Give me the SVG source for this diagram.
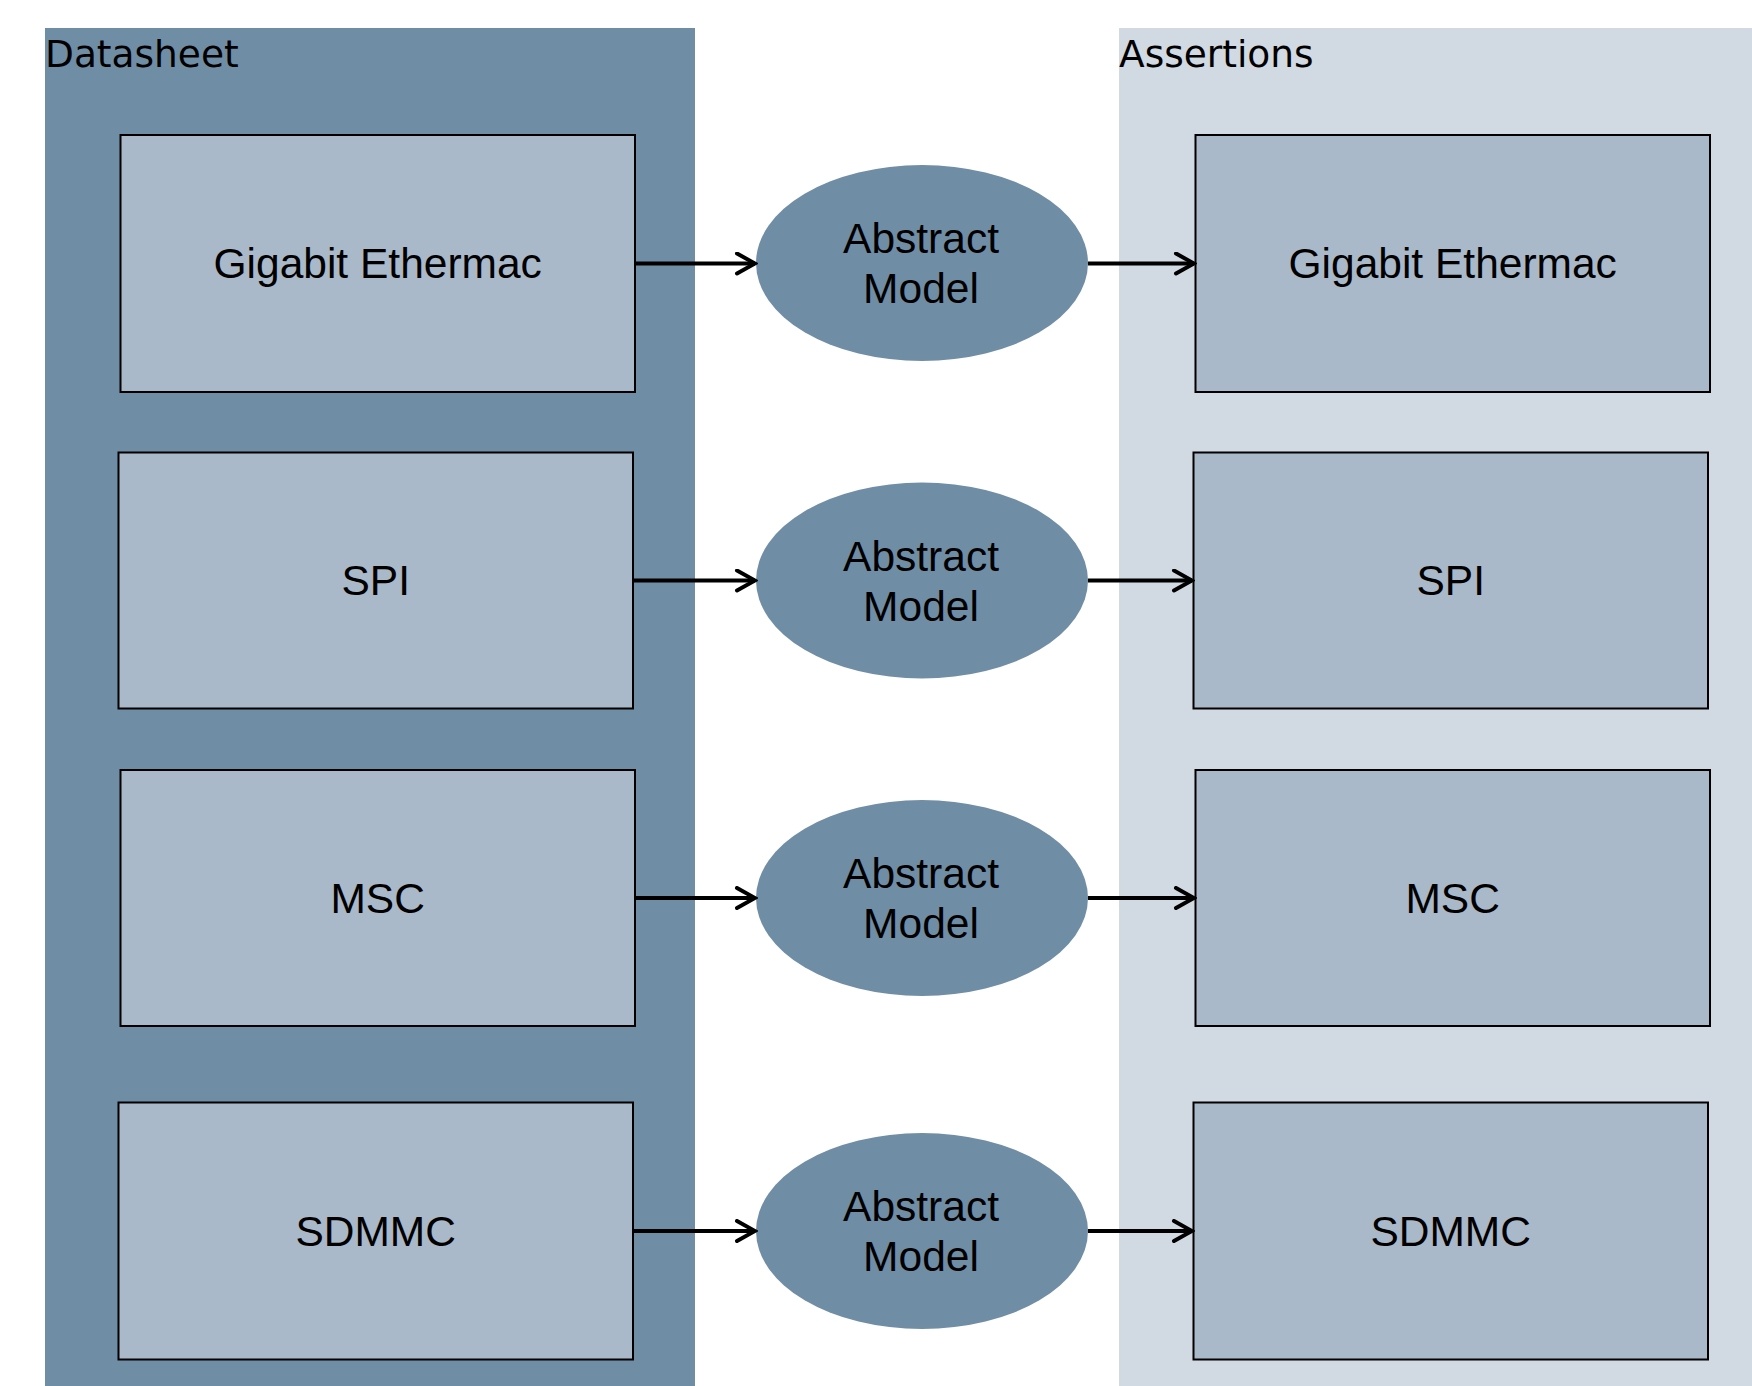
<svg xmlns="http://www.w3.org/2000/svg" width="1752" height="1386" viewBox="0 0 1752 1386">
<style>
.panel-dark{fill:#708DA6}
.panel-light{fill:#D1D9E2}
.box{fill:#A9B9C9;stroke:#000;stroke-width:2}
.ell{fill:#708DA6}
.lbl{font-family:"Liberation Sans",Arial,Helvetica,sans-serif;font-size:42.5px;fill:#000;text-anchor:middle}
.plbl{font-family:"DejaVu Sans",Verdana,sans-serif;font-size:37.5px;fill:#000}
.conn{stroke:#000;stroke-width:4;fill:none}
</style>
<defs>
<marker id="arr" viewBox="0 0 24 24" markerWidth="24" markerHeight="24" refX="21" refY="12" orient="auto" markerUnits="userSpaceOnUse">
<path d="M3,2 L21,12 L3,22" fill="none" stroke="#000" stroke-width="4" stroke-linecap="round" stroke-linejoin="miter"/>
</marker>
</defs>
<rect width="1752" height="1386" fill="#FFFFFF"/>
<g id="panel-datasheet">
<rect class="panel-dark" x="45" y="28" width="650" height="1358"/>
<text class="plbl" x="45" y="67">Datasheet</text>
</g>
<g id="panel-assertions">
<rect class="panel-light" x="1119" y="28" width="633" height="1358"/>
<text class="plbl" x="1119" y="67">Assertions</text>
</g>
<g id="ds-gigabit"><rect class="box" x="120.5" y="135" width="514.5" height="257"/><text class="lbl" x="377.7" y="278">Gigabit Ethermac</text></g>
<g id="ds-spi"><rect class="box" x="118.5" y="452.5" width="514.5" height="256"/><text class="lbl" x="375.7" y="595">SPI</text></g>
<g id="ds-msc"><rect class="box" x="120.5" y="770" width="514.5" height="256"/><text class="lbl" x="377.7" y="912.5">MSC</text></g>
<g id="ds-sdmmc"><rect class="box" x="118.5" y="1102.5" width="514.5" height="257"/><text class="lbl" x="375.7" y="1245.5">SDMMC</text></g>
<g id="am-1"><ellipse class="ell" cx="922" cy="263" rx="166" ry="98"/><text class="lbl" x="921" y="253">Abstract</text><text class="lbl" x="921" y="303">Model</text></g>
<g id="am-2"><ellipse class="ell" cx="922" cy="580.5" rx="166" ry="98"/><text class="lbl" x="921" y="570.5">Abstract</text><text class="lbl" x="921" y="620.5">Model</text></g>
<g id="am-3"><ellipse class="ell" cx="922" cy="898" rx="166" ry="98"/><text class="lbl" x="921" y="888">Abstract</text><text class="lbl" x="921" y="938">Model</text></g>
<g id="am-4"><ellipse class="ell" cx="922" cy="1231" rx="166" ry="98"/><text class="lbl" x="921" y="1221">Abstract</text><text class="lbl" x="921" y="1271">Model</text></g>
<g id="as-gigabit"><rect class="box" x="1195.5" y="135" width="514.5" height="257"/><text class="lbl" x="1452.7" y="278">Gigabit Ethermac</text></g>
<g id="as-spi"><rect class="box" x="1193.5" y="452.5" width="514.5" height="256"/><text class="lbl" x="1450.7" y="595">SPI</text></g>
<g id="as-msc"><rect class="box" x="1195.5" y="770" width="514.5" height="256"/><text class="lbl" x="1452.7" y="912.5">MSC</text></g>
<g id="as-sdmmc"><rect class="box" x="1193.5" y="1102.5" width="514.5" height="257"/><text class="lbl" x="1450.7" y="1245.5">SDMMC</text></g>
<g id="connectors">
<line class="conn" x1="635" y1="263.5" x2="755" y2="263.5" marker-end="url(#arr)"/>
<line class="conn" x1="1088" y1="263.5" x2="1194" y2="263.5" marker-end="url(#arr)"/>
<line class="conn" x1="633" y1="580.5" x2="755" y2="580.5" marker-end="url(#arr)"/>
<line class="conn" x1="1088" y1="580.5" x2="1192" y2="580.5" marker-end="url(#arr)"/>
<line class="conn" x1="635" y1="898" x2="755" y2="898" marker-end="url(#arr)"/>
<line class="conn" x1="1088" y1="898" x2="1194" y2="898" marker-end="url(#arr)"/>
<line class="conn" x1="633" y1="1231" x2="755" y2="1231" marker-end="url(#arr)"/>
<line class="conn" x1="1088" y1="1231" x2="1192" y2="1231" marker-end="url(#arr)"/>
</g>
</svg>
